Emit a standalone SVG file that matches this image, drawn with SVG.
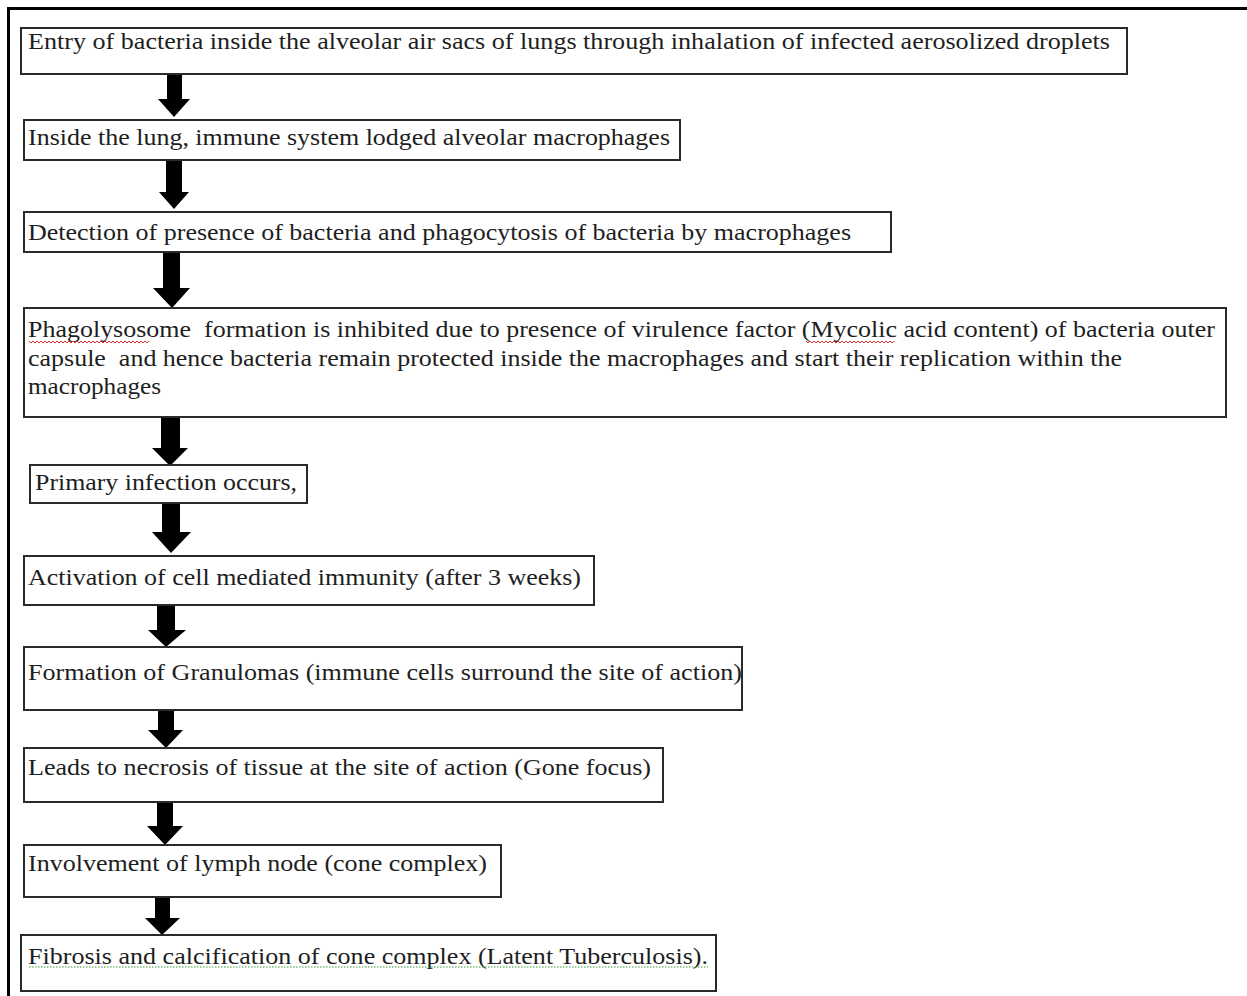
<svg xmlns="http://www.w3.org/2000/svg" width="1247" height="996" viewBox="0 0 1247 996">
<style>
.frame{fill:none;stroke:#000;stroke-width:3}
.box{fill:#fff;stroke:#2a2a2a;stroke-width:2}
.t{font-family:"Liberation Serif","Times New Roman",serif;font-size:23px;fill:#1e1e1e;white-space:pre}
.arrow{fill:#000}
.sq-red{fill:none;stroke:#e03030;stroke-width:1}
.sq-green{fill:none;stroke:#3a9a3a;stroke-width:1}
</style>
<rect x="0" y="0" width="1247" height="996" fill="#fff"/>
<path class="frame" d="M8.5 996 V8.5 H1247"/>

<g id="connectors">
<polygon class="arrow" points="167,75 182,75 182,99 190,99 174,117 158,99 167,99"/>
<polygon class="arrow" points="166,161 182,161 182,192 189,192 174,209 159,192 166,192"/>
<polygon class="arrow" points="163,253 180,253 180,288 190,288 172,308 153,288 163,288"/>
<polygon class="arrow" points="161,418 180,418 180,448 188,448 170,466 152,448 161,448"/>
<polygon class="arrow" points="162,504 180,504 180,532 191,532 171,553 152,532 162,532"/>
<polygon class="arrow" points="157,606 175,606 175,630 186,630 166,647 148,630 157,630"/>
<polygon class="arrow" points="158,711 174,711 174,730 183,730 166,748 148,730 158,730"/>
<polygon class="arrow" points="157,803 173,803 173,826 183,826 165,845 147,826 157,826"/>
<polygon class="arrow" points="155,898 170,898 170,918 180,918 162,935 145,918 155,918"/>
</g>

<g id="n1">
<rect class="box" x="21" y="28" width="1106" height="46"/>
<text class="t" x="28" y="49" textLength="1082" lengthAdjust="spacingAndGlyphs">Entry of bacteria inside the alveolar air sacs of lungs through inhalation of infected aerosolized droplets</text>
</g>
<g id="n2">
<rect class="box" x="24" y="120" width="656" height="40"/>
<text class="t" x="28" y="145" textLength="642" lengthAdjust="spacingAndGlyphs">Inside the lung, immune system lodged alveolar macrophages</text>
</g>
<g id="n3">
<rect class="box" x="24" y="212" width="867" height="40"/>
<text class="t" x="28" y="240" textLength="823" lengthAdjust="spacingAndGlyphs">Detection of presence of bacteria and phagocytosis of bacteria by macrophages</text>
</g>
<g id="n4">
<rect class="box" x="24" y="308" width="1202" height="109"/>
<text class="t" x="28" y="337" textLength="1187" lengthAdjust="spacingAndGlyphs">Phagolysosome  formation is inhibited due to presence of virulence factor (Mycolic acid content) of bacteria outer</text>
<text class="t" x="28" y="366" textLength="1094" lengthAdjust="spacingAndGlyphs">capsule  and hence bacteria remain protected inside the macrophages and start their replication within the</text>
<text class="t" x="28" y="394" textLength="133" lengthAdjust="spacingAndGlyphs">macrophages</text>
<path class="sq-red" d="M29 341 l2 2 l2 -2 l2 2 l2 -2 l2 2 l2 -2 l2 2 l2 -2 l2 2 l2 -2 l2 2 l2 -2 l2 2 l2 -2 l2 2 l2 -2 l2 2 l2 -2 l2 2 l2 -2 l2 2 l2 -2 l2 2 l2 -2 l2 2 l2 -2 l2 2 l2 -2 l2 2 l2 -2 l2 2 l2 -2 l2 2 l2 -2 l2 2 l2 -2 l2 2 l2 -2 l2 2 l2 -2 l2 2 l2 -2 l2 2 l2 -2 l2 2 l2 -2 l2 2 l2 -2 l2 2 l2 -2 l2 2 l2 -2 l2 2 l2 -2 l2 2 l2 -2 l2 2 l2 -2 l2 2 l2 -2"/>
<path class="sq-red" d="M806 341 l2 2 l2 -2 l2 2 l2 -2 l2 2 l2 -2 l2 2 l2 -2 l2 2 l2 -2 l2 2 l2 -2 l2 2 l2 -2 l2 2 l2 -2 l2 2 l2 -2 l2 2 l2 -2 l2 2 l2 -2 l2 2 l2 -2 l2 2 l2 -2 l2 2 l2 -2 l2 2 l2 -2 l2 2 l2 -2 l2 2 l2 -2 l2 2 l2 -2 l2 2 l2 -2 l2 2 l2 -2 l2 2 l2 -2 l2 2 l2 -2"/>
</g>
<g id="n5">
<rect class="box" x="30" y="465" width="277" height="38"/>
<text class="t" x="35" y="490" textLength="262" lengthAdjust="spacingAndGlyphs">Primary infection occurs,</text>
</g>
<g id="n6">
<rect class="box" x="24" y="556" width="570" height="49"/>
<text class="t" x="28" y="585" textLength="553" lengthAdjust="spacingAndGlyphs">Activation of cell mediated immunity (after 3 weeks)</text>
</g>
<g id="n7">
<rect class="box" x="24" y="647" width="718" height="63"/>
<text class="t" x="28" y="680" textLength="714" lengthAdjust="spacingAndGlyphs">Formation of Granulomas (immune cells surround the site of action)</text>
</g>
<g id="n8">
<rect class="box" x="24" y="748" width="639" height="54"/>
<text class="t" x="28" y="775" textLength="623" lengthAdjust="spacingAndGlyphs">Leads to necrosis of tissue at the site of action (Gone focus)</text>
</g>
<g id="n9">
<rect class="box" x="24" y="845" width="477" height="52"/>
<text class="t" x="28" y="871" textLength="459" lengthAdjust="spacingAndGlyphs">Involvement of lymph node (cone complex)</text>
</g>
<g id="n10">
<rect class="box" x="21" y="935" width="695" height="56"/>
<text class="t" x="28" y="964" textLength="680" lengthAdjust="spacingAndGlyphs">Fibrosis and calcification of cone complex (Latent Tuberculosis).</text>
<path class="sq-green" d="M29 967 H708" stroke-dasharray="1.5 1.5"/>
</g>
</svg>
